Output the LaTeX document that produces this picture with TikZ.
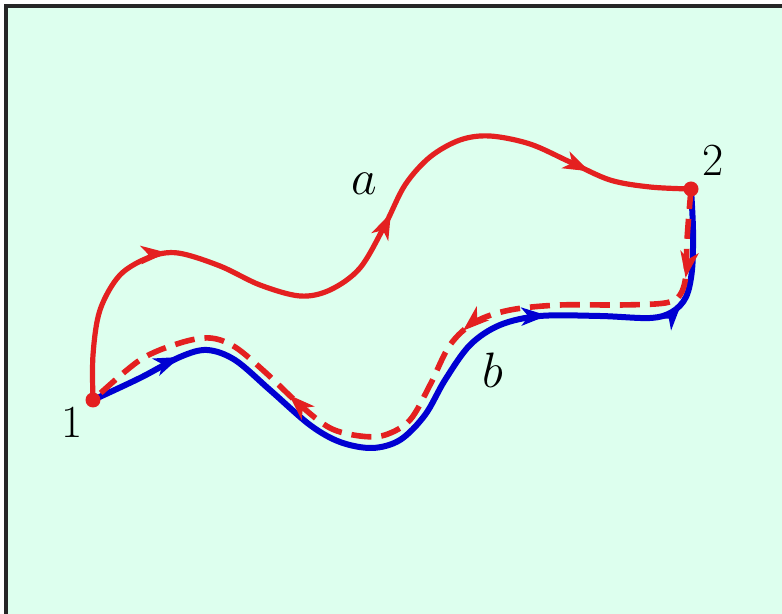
\documentclass[tikz,border=0pt]{standalone}
\usetikzlibrary{decorations.markings,arrows.meta}
\definecolor{mint}{RGB}{221,255,238}
\definecolor{cred}{RGB}{228,32,32}
\definecolor{cblue}{RGB}{0,0,210}
\begin{document}
\begin{tikzpicture}[x=0.5pt,y=-0.5pt,
  >={Stealth[length=13pt,width=9pt,inset=3.5pt]},
  redline/.style={draw=cred,line width=2.6pt,line cap=round},
  blueline/.style={draw=cblue,line width=3pt,line cap=round},
  reddash/.style={draw=cred,line width=2.8pt,dash pattern=on 10pt off 5pt},
  lbl/.style={font=\fontsize{23}{27}\selectfont,inner sep=0pt},
  dot/.style={circle,fill=cred,minimum size=7.5pt,inner sep=0pt}]
\useasboundingbox (0,0) rectangle (782,614);
\fill[white] (0,0) rectangle (782,614);
\fill[mint] (6,6) rectangle (782,614);
\draw[line width=1.6pt,color=black!85] (6,614) -- (6,6) -- (782,6);
% points
\coordinate (c1) at (93,400);
\coordinate (c2) at (691,189);
% blue path b (1 -> 2)
\draw[blueline,postaction={decorate},decoration={markings,
   mark=at position 0.12 with {\arrow[cblue]{>}},
   mark=at position 0.685 with {\arrow[cblue]{>}},
   mark=at position 0.855 with {\arrow[cblue]{>}}}]
  plot[smooth,tension=0.55] coordinates {(c1) (140,378) (180,357) (207,350) (235,360) (270,390) (310,425) (340,442) (372,448) (400,440) (425,415) (445,380) (470,345) (500,325) (540,316) (600,316) (650,318) (672,312) (686,297) (692,270) (693,230) (c2)};
% red dashed (2 -> 1)
\draw[reddash,postaction={decorate},decoration={markings,
   mark=at position 0.11 with {\arrow[cred,solid]{>}},
   mark=at position 0.41 with {\arrow[cred,solid]{>}},
   mark=at position 0.71 with {\arrow[cred,solid]{>}}}]
  plot[smooth,tension=0.55] coordinates {(c2) (687,240) (686,275) (680,295) (665,303) (620,305) (560,305) (510,310) (475,322) (450,345) (430,385) (410,420) (385,435) (360,436) (330,428) (300,405) (265,372) (235,347) (210,338) (180,343) (140,360) (c1)};
% red path a (1 -> 2)
\draw[redline,postaction={decorate},decoration={markings,
   mark=at position 0.23 with {\arrow[cred]{>}},
   mark=at position 0.57 with {\arrow[cred]{>}},
   mark=at position 0.87 with {\arrow[cred]{>}}}]
  plot[smooth,tension=0.55] coordinates {(c1) (93,355) (100,310) (120,275) (150,257) (178,253) (220,266) (260,285) (300,296) (330,290) (360,268) (385,225) (405,185) (430,157) (460,140) (490,136) (530,144) (570,162) (610,180) (650,187) (c2)};
\node[dot] (p1) at (c1) {};
\node[dot] (p2) at (c2) {};
\node[lbl] (l1) at (72,422) {1};
\node[lbl] (l2) at (713,160) {2};
\node[lbl] (la) at (364,184) {$a$};
\node[lbl] (lb) at (493,370) {$b$};
\end{tikzpicture}
\end{document}
